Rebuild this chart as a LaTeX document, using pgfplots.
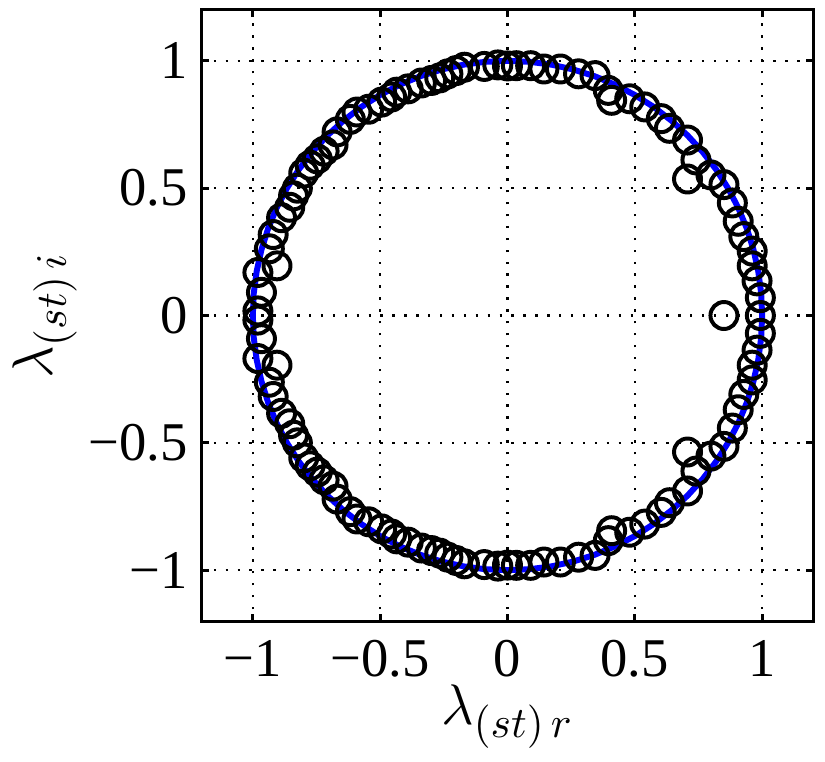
\documentclass[border=0pt]{standalone}
\usepackage{fontspec}
\setmainfont{Liberation Serif}
\usepackage{pgfplots}
\pgfplotsset{compat=1.18}
\begin{document}
\begin{tikzpicture}
\begin{axis}[
 scale only axis, width=154pt, height=154pt,
 xmin=-1.2, xmax=1.2, ymin=-1.2, ymax=1.2,
 xtick={-1,-0.5,0,0.5,1}, ytick={-1,-0.5,0,0.5,1},
 xticklabels={−1,−0.5,0,0.5,1}, yticklabels={−1,−0.5,0,0.5,1},
 tick align=inside, major tick length=1.75pt,
 tick style={black, line width=0.75pt},
 axis line style={line width=0.75pt},
 grid=major,
 major grid style={black, line width=0.6pt, dash pattern=on 0.6pt off 2.4pt},
 tick label style={font=\fontsize{13.75}{16}\selectfont},
 xticklabel style={yshift=-1.4pt},
 label style={font=\fontsize{15.5}{18}\selectfont},
 xlabel={$\lambda_{(st)\,r}$}, ylabel={$\lambda_{(st)\,i}$},
 xlabel shift=-5pt, ylabel shift=-3.8pt,
]
\addplot[only marks, mark=o, mark size=3.4pt, mark options={black, line width=1pt}] coordinates {
(0.993,0) (0.85,0)
(0.993,0.070) (0.980,0.136) (0.961,0.195) (0.961,0.253) (0.928,0.310) (0.906,0.370)
(0.883,0.442) (0.850,0.514) (0.799,0.552) (0.740,0.611) (0.707,0.689) (0.636,0.735)
(0.604,0.773) (0.539,0.819) (0.480,0.851) (0.396,0.884) (0.409,0.845) (0.344,0.942)
(0.279,0.949) (0.208,0.968) (0.143,0.968) (0.091,0.981) (0.035,0.981) (0.707,0.536)
(0.0,0.980) (-0.038,0.984) (-0.091,0.978) (-0.169,0.975) (-0.201,0.962) (-0.234,0.949)
(-0.266,0.933) (-0.298,0.923) (-0.338,0.913) (-0.390,0.890) (-0.435,0.877) (-0.455,0.858)
(-0.494,0.838) (-0.545,0.810) (-0.591,0.799) (-0.617,0.770) (-0.669,0.721) (-0.685,0.670)
(-0.720,0.645) (-0.747,0.615) (-0.775,0.590) (-0.800,0.559) (-0.825,0.500) (-0.840,0.470)
(-0.855,0.425) (-0.887,0.384) (-0.920,0.318) (-0.935,0.262) (-0.905,0.195) (-0.980,0.169)
(-0.966,0.091) (-0.980,0.018)
(0.993,-0.070) (0.980,-0.136) (0.961,-0.195) (0.961,-0.253) (0.928,-0.310) (0.906,-0.370)
(0.883,-0.442) (0.850,-0.514) (0.799,-0.552) (0.740,-0.611) (0.707,-0.689) (0.636,-0.735)
(0.604,-0.773) (0.539,-0.819) (0.480,-0.851) (0.396,-0.884) (0.409,-0.845) (0.344,-0.942)
(0.279,-0.949) (0.208,-0.968) (0.143,-0.968) (0.091,-0.981) (0.035,-0.981) (0.707,-0.536)
(0.0,-0.980) (-0.038,-0.984) (-0.091,-0.978) (-0.169,-0.975) (-0.201,-0.962) (-0.234,-0.949)
(-0.266,-0.933) (-0.298,-0.923) (-0.338,-0.913) (-0.390,-0.890) (-0.435,-0.877) (-0.455,-0.858)
(-0.494,-0.838) (-0.545,-0.810) (-0.591,-0.799) (-0.617,-0.770) (-0.669,-0.721) (-0.685,-0.670)
(-0.720,-0.645) (-0.747,-0.615) (-0.775,-0.590) (-0.800,-0.559) (-0.825,-0.500) (-0.840,-0.470)
(-0.855,-0.425) (-0.887,-0.384) (-0.920,-0.318) (-0.935,-0.262) (-0.905,-0.195) (-0.980,-0.169)
(-0.966,-0.091) (-0.980,-0.018)
};
\addplot[blue, line width=1.5pt, no marks] coordinates {
(1,0) (0.9962,0.0872) (0.9848,0.1736) (0.9659,0.2588) (0.9397,0.3420) (0.9063,0.4226)
(0.8660,0.5) (0.8192,0.5736) (0.7660,0.6428) (0.7071,0.7071) (0.6428,0.7660) (0.5736,0.8192)
(0.5,0.8660) (0.4226,0.9063) (0.3420,0.9397) (0.2588,0.9659) (0.1736,0.9848) (0.0872,0.9962)
(0,1) (-0.0872,0.9962) (-0.1736,0.9848) (-0.2588,0.9659) (-0.3420,0.9397) (-0.4226,0.9063)
(-0.5,0.8660) (-0.5736,0.8192) (-0.6428,0.7660) (-0.7071,0.7071) (-0.7660,0.6428) (-0.8192,0.5736)
(-0.8660,0.5) (-0.9063,0.4226) (-0.9397,0.3420) (-0.9659,0.2588) (-0.9848,0.1736) (-0.9962,0.0872)
(-1,0) (-0.9962,-0.0872) (-0.9848,-0.1736) (-0.9659,-0.2588) (-0.9397,-0.3420) (-0.9063,-0.4226)
(-0.8660,-0.5) (-0.8192,-0.5736) (-0.7660,-0.6428) (-0.7071,-0.7071) (-0.6428,-0.7660) (-0.5736,-0.8192)
(-0.5,-0.8660) (-0.4226,-0.9063) (-0.3420,-0.9397) (-0.2588,-0.9659) (-0.1736,-0.9848) (-0.0872,-0.9962)
(0,-1) (0.0872,-0.9962) (0.1736,-0.9848) (0.2588,-0.9659) (0.3420,-0.9397) (0.4226,-0.9063)
(0.5,-0.8660) (0.5736,-0.8192) (0.6428,-0.7660) (0.7071,-0.7071) (0.7660,-0.6428) (0.8192,-0.5736)
(0.8660,-0.5) (0.9063,-0.4226) (0.9397,-0.3420) (0.9659,-0.2588) (0.9848,-0.1736) (0.9962,-0.0872)
(1,0)
};
\end{axis}
\path ([xshift=3pt]current axis.east);
\path ([yshift=2.5pt]current axis.north);
\end{tikzpicture}
\end{document}
